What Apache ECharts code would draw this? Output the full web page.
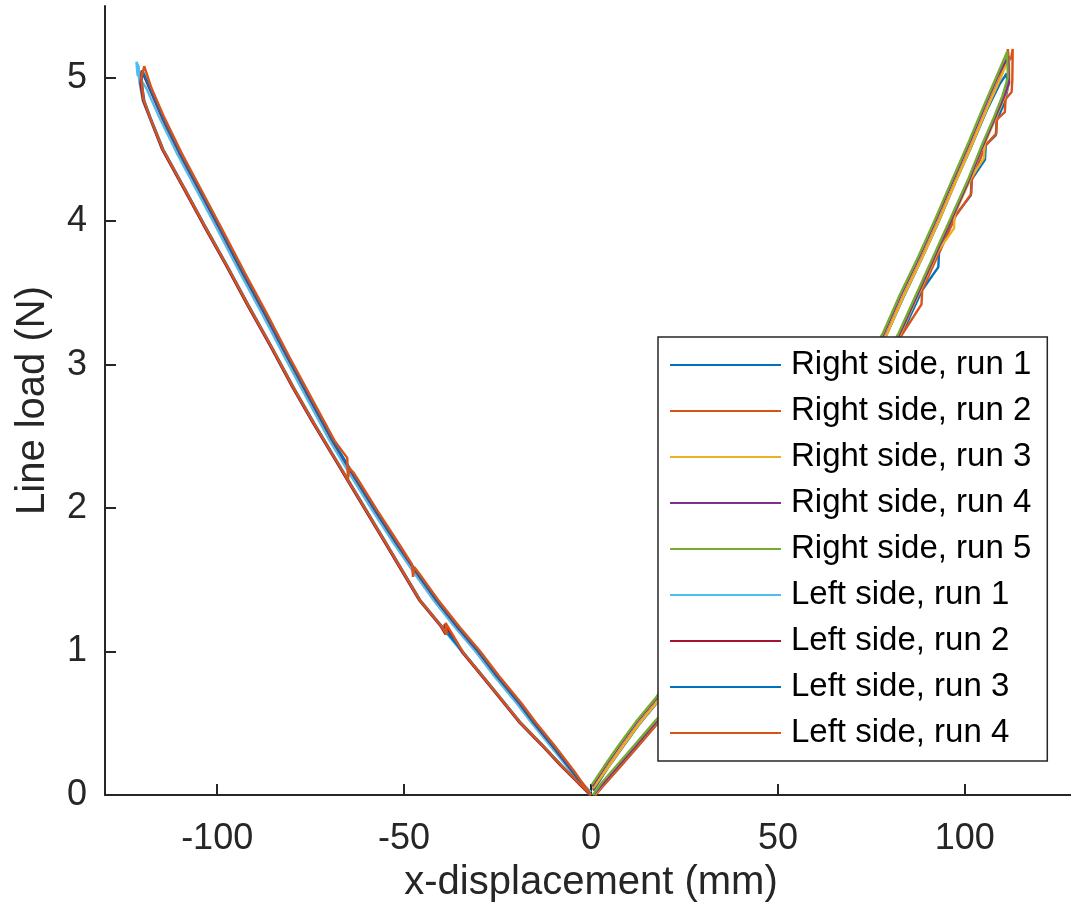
<!DOCTYPE html>
<html>
<head>
<meta charset="utf-8">
<script src="https://cdn.jsdelivr.net/npm/echarts@6/dist/echarts.min.js"></script>
<style>
  html, body { margin: 0; padding: 0; background: #fff; }
  #main { width: 1071px; height: 910px; }
</style>
</head>
<body>
<div id="main"></div>
<script>
// run names and MATLAB default colour order
const runNames = [
	'Right side, run 1', 'Right side, run 2', 'Right side, run 3', 'Right side, run 4', 'Right side, run 5',
	'Left side, run 1', 'Left side, run 2', 'Left side, run 3', 'Left side, run 4'
];
const runColors = ['#0072BD', '#D95319', '#EDB120', '#7E2F8E', '#77AC30', '#4DBEEE', '#A2142F', '#0072BD', '#D95319'];

const xTicks = [-100, -50, 0, 50, 100];
const yTicks = [0, 1, 2, 3, 4, 5];

// [x-displacement (mm), line load (N)], loading then unloading
const rightRun1 = [[0.6,0.03],[4.3,0.18],[8.4,0.33],[12.8,0.49],[17.9,0.65],[22.3,0.81],[27.4,0.99],[32.2,1.19],[37.4,1.39],[42.3,1.59],[47.4,1.8],[52.3,2.02],[57.4,2.24],[62.3,2.46],[67.4,2.69],[72.3,2.91],[78.9,3.2],[83.4,3.46],[88.3,3.73],[92.9,3.99],[97.6,4.28],[101.9,4.53],[105.8,4.77],[109.2,4.95],[111.2,5.03],
	[111.4,4.92],[110.7,4.83],[108.5,4.7],[108.3,4.6],[105.6,4.53],[105.4,4.43],[101.8,4.29],[101.6,4.18],[97.5,4.04],[93.1,3.78],[92.9,3.68],[88.6,3.52],[83.1,3.21],[77.5,2.95],[71.6,2.68],[65.5,2.41],[59.6,2.14],[53.5,1.88],[47.6,1.63],[41.5,1.38],[35.6,1.14],[29.5,0.9],[23.6,0.68],[18.1,0.51],[12.5,0.34],[7.5,0.19],[3.4,0.07],[1,0]];
const rightRun2 = [[0.5,0.04],[4.4,0.19],[8.4,0.34],[12.9,0.5],[18,0.66],[22.4,0.82],[27.4,1.0],[32.4,1.2],[37.3,1.39],[42.4,1.6],[47.4,1.81],[52.4,2.03],[57.3,2.24],[62.4,2.47],[67.4,2.7],[72.4,2.92],[79,3.21],[83.4,3.47],[88.4,3.74],[92.9,4.0],[97.7,4.29],[101.9,4.54],[105.9,4.79],[109.4,5.0],[111.3,5.13],[111.5,5.2],[111.8,5.12],[112.4,5.14],[112.8,5.2],
	[112.7,4.98],[112.5,4.9],[110.9,4.85],[110.7,4.76],[108.6,4.71],[108.4,4.61],[105.6,4.53],[101.9,4.29],[101.7,4.19],[97.6,4.04],[93.1,3.78],[88.6,3.52],[88.4,3.42],[83.2,3.21],[77.6,2.95],[71.6,2.68],[65.6,2.41],[59.6,2.14],[53.6,1.88],[47.6,1.63],[41.6,1.38],[35.6,1.14],[29.6,0.9],[23.6,0.68],[18.2,0.51],[12.6,0.34],[7.6,0.19],[3.5,0.07],[1.2,0]];
const rightRun3 = [[0.6,0.05],[4.5,0.19],[8.5,0.34],[13,0.5],[18.1,0.66],[22.5,0.82],[27.5,1.0],[32.5,1.2],[37.5,1.4],[42.5,1.6],[47.5,1.81],[52.5,2.03],[57.5,2.25],[62.5,2.47],[67.5,2.7],[72.5,2.92],[79.1,3.21],[83.5,3.47],[88.5,3.74],[93,4.0],[97.8,4.29],[102,4.54],[106,4.79],[109.6,5.0],[111.8,5.14],
	[111.9,4.97],[110.6,4.86],[108.3,4.72],[105.3,4.54],[105.1,4.44],[101.6,4.3],[97.3,4.05],[97.1,3.95],[92.8,3.79],[88.3,3.53],[82.9,3.22],[77.3,2.96],[71.3,2.69],[65.3,2.42],[59.3,2.15],[53.3,1.89],[47.3,1.64],[41.3,1.39],[35.3,1.15],[29.3,0.91],[23.3,0.69],[17.9,0.52],[12.3,0.35],[7.3,0.2],[3.3,0.08],[1,0]];
const rightRun4 = [[0.3,0.06],[3.8,0.2],[7.8,0.35],[12.3,0.51],[17.4,0.67],[21.8,0.83],[26.8,1.01],[31.8,1.21],[36.8,1.41],[41.8,1.61],[46.8,1.82],[51.8,2.04],[56.8,2.26],[61.8,2.48],[66.8,2.71],[71.8,2.93],[78.4,3.22],[82.8,3.48],[87.8,3.75],[92.3,4.01],[97.1,4.3],[101.3,4.55],[105.3,4.8],[108.8,5.01],[111.6,5.15],
	[111.8,4.96],[110.2,4.85],[107.9,4.71],[104.9,4.53],[101.2,4.29],[96.9,4.04],[92.4,3.78],[87.9,3.52],[82.5,3.21],[76.9,2.95],[70.9,2.68],[64.9,2.41],[58.9,2.14],[52.9,1.88],[46.9,1.63],[40.9,1.38],[34.9,1.14],[28.9,0.9],[22.9,0.68],[17.5,0.51],[11.9,0.34],[6.9,0.19],[2.9,0.07],[0.7,0]];
const rightRun5 = [[0.2,0.07],[3.5,0.2],[7.5,0.35],[12,0.51],[17.1,0.67],[21.5,0.83],[26.5,1.01],[31.5,1.21],[36.5,1.41],[41.5,1.61],[46.5,1.82],[51.5,2.04],[56.5,2.26],[61.5,2.48],[66.5,2.71],[71.5,2.93],[78.1,3.22],[82.5,3.48],[87.5,3.75],[92,4.01],[96.8,4.3],[101,4.55],[105,4.8],[108.5,5.01],[111.3,5.18],
	[111.5,5.0],[110,4.87],[107.7,4.72],[104.7,4.54],[101,4.3],[96.7,4.05],[92.2,3.79],[87.7,3.53],[82.3,3.22],[76.7,2.96],[70.7,2.69],[64.7,2.42],[58.7,2.15],[52.7,1.89],[46.7,1.64],[40.7,1.39],[34.7,1.15],[28.7,0.91],[22.7,0.69],[17.3,0.52],[11.7,0.35],[6.7,0.2],[2.7,0.08],[0.5,0]];

const leftRun1 = [[0,0.02],[-5.6,0.17],[-10.8,0.34],[-15.8,0.5],[-19.9,0.64],[-25.9,0.83],[-30.9,1.0],[-36.4,1.17],[-41.9,1.35],[-47.4,1.55],[-52.9,1.76],[-58.4,1.98],[-63.9,2.21],[-69.9,2.47],[-75.9,2.76],[-81.9,3.05],[-87.9,3.35],[-93.9,3.64],[-99.9,3.94],[-105.4,4.21],[-110.9,4.48],[-115.4,4.72],[-119,4.93],[-121.3,5.02],[-121.6,5.11],[-121.0,5.08],
	[-120.8,4.97],[-119.9,4.84],[-118.1,4.72],[-114.7,4.5],[-108.8,4.22],[-103.8,3.98],[-97.8,3.7],[-91.8,3.41],[-85.8,3.13],[-79.8,2.84],[-74.3,2.59],[-68.3,2.33],[-62.3,2.07],[-56.3,1.81],[-50.8,1.57],[-46,1.36],[-40.3,1.18],[-34.3,0.99],[-28.3,0.8],[-23.3,0.64],[-19.3,0.51],[-13.3,0.35],[-8.3,0.21],[-3.3,0.08],[-0.3,0]];
const leftRun2 = [[0,0],[-5.2,0.17],[-10.2,0.34],[-15.2,0.5],[-19.2,0.64],[-25.2,0.83],[-30.2,1.0],[-35.7,1.17],[-41.2,1.35],[-46.7,1.55],[-52.2,1.76],[-57.7,1.98],[-63.2,2.21],[-69.2,2.47],[-75.2,2.76],[-81.2,3.05],[-87.2,3.35],[-93.2,3.64],[-99.2,3.94],[-104.7,4.21],[-110.2,4.48],[-114.7,4.72],[-118.2,4.93],[-120.2,5.05],
	[-120.5,4.96],[-119.8,4.84],[-118,4.72],[-114.7,4.5],[-108.8,4.22],[-103.8,3.98],[-97.8,3.7],[-91.8,3.41],[-85.8,3.13],[-79.8,2.84],[-74.3,2.59],[-68.3,2.33],[-62.3,2.07],[-56.3,1.81],[-50.8,1.57],[-46,1.36],[-40.3,1.18],[-38.9,1.12],[-39.2,1.19],[-34.3,0.99],[-28.3,0.8],[-23.3,0.64],[-19.3,0.51],[-13.3,0.35],[-8.3,0.21],[-3.3,0.08],[-0.2,0]];
const leftRun3 = [[0,0],[-5,0.17],[-10,0.34],[-15,0.5],[-19,0.64],[-25,0.83],[-30,1.0],[-35.5,1.17],[-41,1.35],[-46.5,1.55],[-52,1.76],[-57.5,1.98],[-63,2.21],[-69,2.47],[-75,2.76],[-81,3.05],[-87,3.35],[-93,3.64],[-99,3.94],[-104.5,4.21],[-110,4.48],[-114.5,4.72],[-118,4.93],[-120,5.05],
	[-120.2,4.97],[-119.5,4.84],[-117.8,4.72],[-114.4,4.5],[-108.5,4.22],[-103.5,3.98],[-97.5,3.7],[-91.5,3.41],[-85.5,3.13],[-79.5,2.84],[-74,2.59],[-68,2.33],[-62,2.07],[-56,1.81],[-50.5,1.57],[-45.7,1.36],[-40,1.18],[-34,0.99],[-28,0.8],[-23,0.64],[-19,0.51],[-13,0.35],[-8,0.21],[-3,0.08],[0,0]];
const leftRun4 = [[0,0],[-4.6,0.17],[-9.6,0.34],[-14.6,0.5],[-18.6,0.64],[-24.6,0.83],[-29.6,1.0],[-35.1,1.17],[-40.6,1.35],[-46.1,1.55],[-47.3,1.59],[-47.6,1.52],[-47.9,1.61],[-51.6,1.76],[-57.1,1.98],[-62.6,2.21],[-63.6,2.25],[-64.7,2.28],[-65,2.2],[-65.2,2.35],[-68.6,2.47],[-74.6,2.76],[-80.6,3.05],[-86.6,3.35],[-92.6,3.64],[-98.6,3.94],[-104.1,4.21],[-109.6,4.48],[-114.1,4.72],[-117.6,4.93],[-119.5,5.08],
	[-120.3,5.0],[-119.7,4.85],[-117.9,4.72],[-114.5,4.5],[-108.6,4.22],[-103.6,3.98],[-97.6,3.7],[-91.6,3.41],[-85.6,3.13],[-79.6,2.84],[-74.1,2.59],[-68.1,2.33],[-62.1,2.07],[-56.1,1.81],[-50.6,1.57],[-45.8,1.36],[-40.1,1.18],[-38.6,1.12],[-38.9,1.2],[-34.1,0.99],[-28.1,0.8],[-23.1,0.64],[-19.1,0.51],[-13.1,0.35],[-8.1,0.21],[-3.1,0.08],[0,0]];

const runData = [rightRun1, rightRun2, rightRun3, rightRun4, rightRun5, leftRun1, leftRun2, leftRun3, leftRun4];

const fontFamily = '"Liberation Sans", Arial, Helvetica, sans-serif';
const axisColor = '#262626';

const chart = echarts.init(document.getElementById('main'), null, {renderer: 'canvas'});

chart.setOption({
	animation: false,
	backgroundColor: '#fff',
	textStyle: {fontFamily},
	grid: {left: 105, right: -6, top: 6, bottom: 115, outerBoundsMode: 'none'},
	xAxis: {
		type: 'value',
		min: -130,
		max: 130,
		name: 'x-displacement (mm)',
		nameLocation: 'middle',
		nameGap: 68,
		nameTextStyle: {fontSize: 40, color: axisColor, fontFamily},
		axisLine: {show: true, onZero: false, lineStyle: {color: axisColor, width: 2}},
		axisTick: {show: true, inside: true, length: 11, customValues: xTicks, lineStyle: {color: axisColor, width: 2}},
		axisLabel: {customValues: xTicks, fontSize: 36, color: axisColor, margin: 26, fontFamily},
		splitLine: {show: false}
	},
	yAxis: {
		type: 'value',
		min: 0,
		max: 5.5,
		name: 'Line load (N)',
		nameLocation: 'middle',
		nameGap: 52,
		nameTextStyle: {fontSize: 40, color: axisColor, fontFamily},
		axisLine: {show: true, onZero: false, lineStyle: {color: axisColor, width: 2}},
		axisTick: {show: true, inside: true, length: 11, customValues: yTicks, lineStyle: {color: axisColor, width: 2}},
		axisLabel: {customValues: yTicks, fontSize: 36, color: axisColor, margin: 18, fontFamily},
		splitLine: {show: false}
	},
	legend: {
		orient: 'vertical',
		left: 658,
		top: 337,
		data: runNames,
		icon: 'rect',
		itemWidth: 111,
		itemHeight: 2,
		itemGap: 0,
		padding: [5, 16, 5, 12],
		backgroundColor: '#fff',
		borderColor: axisColor,
		borderWidth: 1.5,
		borderRadius: 0,
		selectedMode: false,
		textStyle: {fontSize: 33, lineHeight: 46, color: '#000', fontFamily, padding: [0, 0, 0, 5]}
	},
	series: runData.map((d, i) => ({
		name: runNames[i],
		type: 'line',
		data: d,
		symbol: 'none',
		smooth: false,
		clip: true,
		lineStyle: {color: runColors[i], width: 2.4},
		itemStyle: {color: runColors[i]}
	}))
});
</script>
</body>
</html>
